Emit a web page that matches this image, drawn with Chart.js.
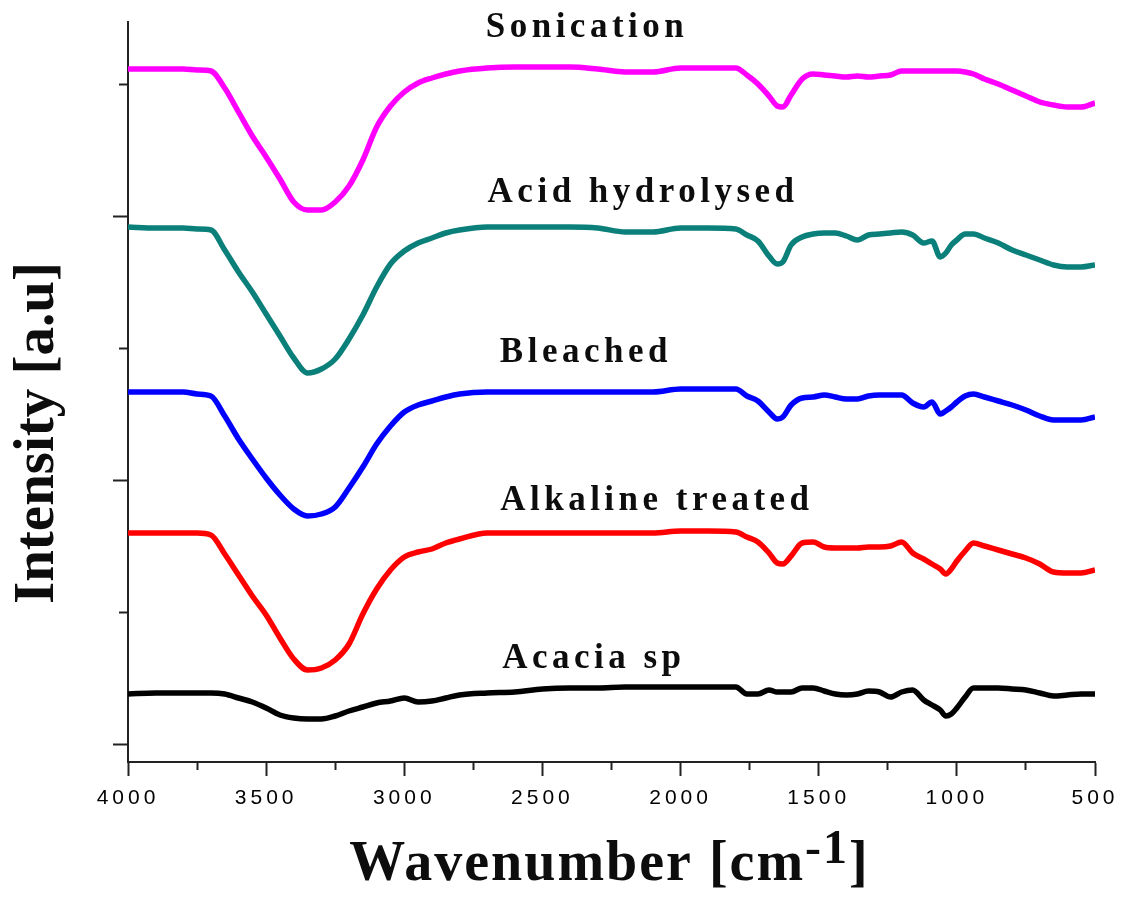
<!DOCTYPE html>
<html>
<head>
<meta charset="utf-8">
<title>FTIR spectra</title>
<script src="https://cdn.jsdelivr.net/npm/chart.js@4.4.1/dist/chart.umd.min.js"></script>
<style>
  html, body { margin: 0; padding: 0; background: #fff; }
  #wrap { width: 1123px; height: 898px; }
</style>
</head>
<body>
<div id="wrap"><canvas id="chart" width="1123" height="898"></canvas></div>
<script>
// ---------------------------------------------------------------------------
// Data. Wavenumber grid in cm-1, intensities in a.u.
// ---------------------------------------------------------------------------
const wavenumbers = [4000, 3900, 3800, 3750, 3700, 3650, 3600, 3550, 3500, 3450, 3400, 3350,
    3300, 3250, 3200, 3150, 3100, 3050, 3000, 2950, 2900, 2850, 2800, 2700, 2600, 2500, 2400,
    2300, 2200, 2100, 2000, 1900, 1800, 1760, 1720, 1680, 1650, 1630, 1600, 1560, 1520, 1480,
    1440, 1400, 1360, 1320, 1280, 1240, 1200, 1160, 1120, 1090, 1060, 1040, 1020, 1000, 970,
    940, 900, 850, 800, 750, 700, 650, 600, 550, 500];

const sonication = [69.3, 69.3, 69.3, 69.2, 69.1, 67.4, 65.0, 62.6, 60.5, 58.3, 56.0, 55.2,
    55.2, 56.0, 57.6, 60.2, 63.5, 65.6, 67.0, 67.9, 68.4, 68.8, 69.1, 69.4, 69.5, 69.5, 69.5,
    69.3, 69.0, 69.0, 69.4, 69.4, 69.4, 68.7, 67.8, 66.6, 65.6, 65.5, 66.7, 68.3, 68.8, 68.7,
    68.6, 68.5, 68.6, 68.5, 68.6, 68.7, 69.1, 69.1, 69.1, 69.1, 69.1, 69.1, 69.1, 69.1, 69.0,
    68.8, 68.3, 67.8, 67.2, 66.6, 66.0, 65.7, 65.5, 65.5, 65.9];

const acidHydrolysed = [53.5, 53.4, 53.4, 53.3, 53.2, 51.2, 49.0, 47.0, 44.8, 42.6, 40.4, 38.9,
    39.3, 40.3, 42.3, 44.7, 47.5, 49.8, 51.1, 51.9, 52.4, 52.9, 53.2, 53.5, 53.5, 53.5, 53.5,
    53.4, 53.0, 53.0, 53.4, 53.4, 53.3, 52.7, 52.1, 50.6, 49.8, 50.0, 51.7, 52.5, 52.8, 52.9,
    52.9, 52.6, 52.2, 52.7, 52.8, 52.9, 53.0, 52.7, 51.9, 52.1, 50.5, 50.9, 51.7, 52.2, 52.8,
    52.8, 52.4, 51.9, 51.2, 50.7, 50.2, 49.7, 49.5, 49.5, 49.7];

const bleached = [37.0, 37.0, 37.0, 36.8, 36.6, 34.6, 32.3, 30.3, 28.4, 26.7, 25.3, 24.6,
    24.8, 25.5, 27.4, 29.5, 31.8, 33.6, 35.0, 35.7, 36.1, 36.5, 36.8, 37.0, 37.0, 37.0, 37.0,
    37.0, 37.0, 37.0, 37.3, 37.3, 37.3, 36.6, 36.1, 35.0, 34.3, 34.5, 35.7, 36.4, 36.5, 36.7,
    36.5, 36.3, 36.3, 36.6, 36.7, 36.7, 36.7, 35.9, 35.5, 36.0, 34.8, 35.1, 35.5, 36.0, 36.6,
    36.8, 36.5, 36.1, 35.7, 35.2, 34.6, 34.2, 34.2, 34.2, 34.5];

const alkalineTreated = [22.9, 22.9, 22.9, 22.9, 22.7, 20.8, 18.7, 16.6, 14.7, 12.4, 10.3, 9.2,
    9.4, 10.2, 11.8, 14.8, 17.3, 19.2, 20.5, 21.0, 21.3, 21.9, 22.3, 22.9, 22.9, 22.9, 22.9,
    22.9, 22.9, 22.9, 23.1, 23.1, 23.0, 22.5, 22.0, 20.9, 19.9, 19.8, 20.6, 21.9, 22.0, 21.5,
    21.4, 21.4, 21.4, 21.5, 21.5, 21.6, 22.0, 20.9, 20.3, 19.8, 19.3, 18.8, 19.3, 20.1, 21.1,
    21.9, 21.6, 21.2, 20.8, 20.4, 19.8, 19.0, 18.9, 18.9, 19.2];

const acaciaSp = [6.8, 6.9, 6.9, 6.9, 6.9, 6.8, 6.4, 6.0, 5.4, 4.7, 4.4, 4.3,
    4.3, 4.6, 5.1, 5.5, 5.9, 6.1, 6.4, 6.0, 6.1, 6.4, 6.7, 6.9, 7.0, 7.3, 7.4,
    7.4, 7.5, 7.5, 7.5, 7.5, 7.5, 6.8, 6.8, 7.2, 7.0, 7.0, 7.0, 7.4, 7.4, 7.1,
    6.8, 6.7, 6.8, 7.1, 7.0, 6.5, 7.0, 7.2, 6.2, 5.7, 5.2, 4.6, 4.8, 5.4, 6.5,
    7.4, 7.4, 7.4, 7.3, 7.2, 6.9, 6.6, 6.7, 6.8, 6.8];

const seriesNames = ['Sonication', 'Acid hydrolysed', 'Bleached', 'Alkaline treated', 'Acacia sp'];
const seriesValues = [sonication, acidHydrolysed, bleached, alkalineTreated, acaciaSp];
const seriesColors = ['#ff00ff', '#0b7f79', '#0000ff', '#ff0000', '#000000'];

// where each curve's name sits (wavenumber of text centre, intensity of baseline)
const labelWavenumbers = [2346, 2143, 2350, 2093, 2321];
const labelIntensities = [72.5, 56.0, 40.0, 25.2, 9.4];

// axis ticks
const xMajorTicks = [4000, 3500, 3000, 2500, 2000, 1500, 1000, 500];
const xMinorTicks = [3750, 3250, 2750, 2250, 1750, 1250, 750];
const yMajorTicks = [1.8, 28.16, 54.52];
const yMinorTicks = [14.98, 41.34, 67.7];

// ---------------------------------------------------------------------------
// Plugins
// ---------------------------------------------------------------------------

// wide tracking for the tick numbers, like the original
const tickSpacing = {
    id: 'tickSpacing',
    beforeDraw(chart) { chart.ctx.letterSpacing = '4px'; },
    afterDraw(chart) { chart.ctx.letterSpacing = '0px'; }
};

// curve names and axis titles
const textLayer = {
    id: 'textLayer',
    afterDraw(chart) {
        const { ctx, chartArea } = chart;
        const xs = chart.scales.x, ys = chart.scales.y;
        ctx.save();
        ctx.fillStyle = '#0d0d0d';
        ctx.textBaseline = 'alphabetic';

        // series names
        ctx.font = 'bold 35px "Liberation Serif", "Times New Roman", serif';
        ctx.letterSpacing = '4.5px';
        ctx.textAlign = 'center';
        seriesNames.forEach((name, i) => {
            const px = xs.getPixelForValue(labelWavenumbers[i]) + 2;
            const py = ys.getPixelForValue(labelIntensities[i]);
            ctx.fillText(name, px, py);
        });

        // x title with superscript
        const big = 'bold 56px "Liberation Serif", "Times New Roman", serif';
        const small = 'bold 48px "Liberation Serif", "Times New Roman", serif';
        ctx.textAlign = 'left';
        ctx.letterSpacing = '2px';
        ctx.font = big;
        const w1 = ctx.measureText('Wavenumber [cm').width;
        const w3 = ctx.measureText(']').width;
        ctx.font = small;
        const w2 = ctx.measureText('-1').width;
        const cx = (chartArea.left + chartArea.right) / 2 - 2;
        let tx = cx - (w1 + w2 + w3) / 2;
        const base = 880;
        ctx.font = big;
        ctx.fillText('Wavenumber [cm', tx, base);
        tx += w1;
        ctx.font = small;
        ctx.fillText('-1', tx, base - 17);
        tx += w2;
        ctx.font = big;
        ctx.fillText(']', tx, base);

        // y title
        ctx.letterSpacing = '0px';
        ctx.font = 'bold 57px "Liberation Serif", "Times New Roman", serif';
        ctx.textAlign = 'center';
        ctx.translate(53, 433);
        ctx.rotate(-Math.PI / 2);
        ctx.fillText('Intensity [a.u]', 0, 0);
        ctx.restore();
        ctx.letterSpacing = '0px';
    }
};

// ---------------------------------------------------------------------------
// Chart
// ---------------------------------------------------------------------------
const datasets = seriesNames.map((name, i) => ({
    label: name,
    data: wavenumbers.map((w, j) => ({ x: w, y: seriesValues[i][j] })),
    borderColor: seriesColors[i],
    borderWidth: 5.5,
    pointRadius: 0,
    cubicInterpolationMode: 'monotone',
    fill: false
}));

const xTickValues = [...xMajorTicks, ...xMinorTicks].sort((a, b) => b - a);
const yTickValues = [...yMajorTicks, ...yMinorTicks].sort((a, b) => a - b);

new Chart(document.getElementById('chart'), {
    type: 'line',
    data: { datasets },
    plugins: [tickSpacing, textLayer],
    options: {
        responsive: false,
        animation: false,
        events: [],
        layout: { padding: { left: 88, right: 28, top: 22, bottom: 76 } },
        plugins: {
            legend: { display: false },
            tooltip: { enabled: false },
            title: { display: false }
        },
        scales: {
            x: {
                type: 'linear',
                reverse: true,
                min: 500,
                max: 4000,
                afterBuildTicks(scale) {
                    scale.ticks = xTickValues.map(v => ({ value: v }));
                },
                afterFit(scale) { scale.height = 60; },
                ticks: {
                    autoSkip: false,
                    maxRotation: 0,
                    padding: 10,
                    color: '#000',
                    font: { family: '"Liberation Sans", Arial, sans-serif', size: 21 },
                    callback: v => xMajorTicks.includes(v) ? String(v) : ''
                },
                grid: {
                    drawOnChartArea: false,
                    drawTicks: true,
                    tickLength: 14,
                    tickWidth: 2,
                    tickColor: '#222',
                    tickBorderDash: ctx => xMajorTicks.includes(ctx.tick.value) ? [] : [7, 20]
                },
                border: { display: true, color: '#222', width: 2 }
            },
            y: {
                type: 'linear',
                min: 0,
                max: 74,
                afterBuildTicks(scale) {
                    scale.ticks = yTickValues.map(v => ({ value: v }));
                },
                afterFit(scale) { scale.width = 40; },
                ticks: { display: false },
                grid: {
                    drawOnChartArea: false,
                    drawTicks: true,
                    tickLength: 15,
                    tickWidth: 2,
                    tickColor: '#222',
                    tickBorderDash: ctx => yMajorTicks.includes(ctx.tick.value) ? [] : [9, 6],
                    tickBorderDashOffset: ctx => yMajorTicks.includes(ctx.tick.value) ? 0 : 9
                },
                border: { display: true, color: '#222', width: 2 }
            }
        }
    }
});
</script>
</body>
</html>
